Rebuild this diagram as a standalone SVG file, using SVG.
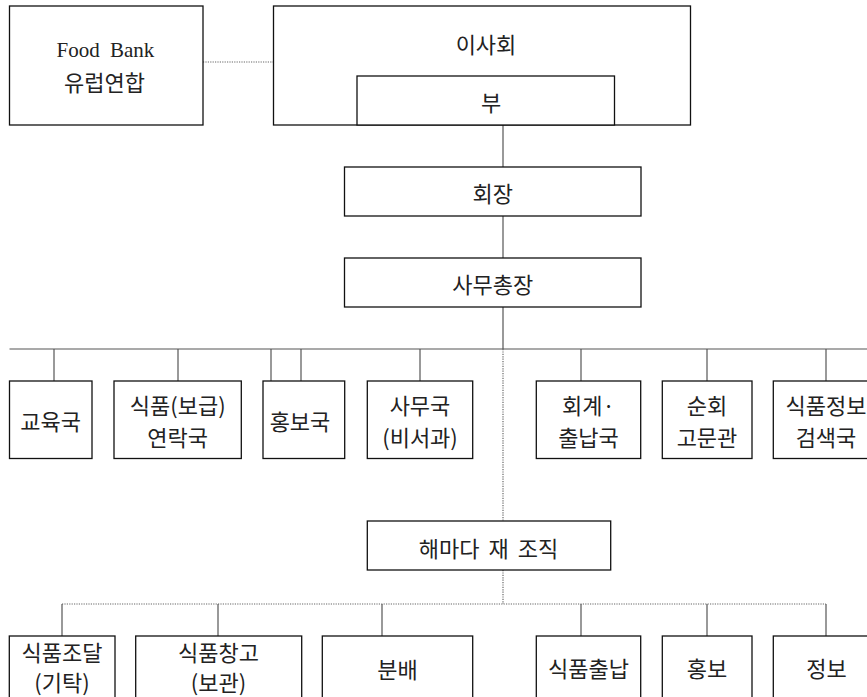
<svg xmlns="http://www.w3.org/2000/svg" width="867" height="697" viewBox="0 0 867 697">
<style>
.box{fill:#fff;stroke:#111;stroke-width:1.3}
.ln{stroke:#555;stroke-width:1.2;fill:none}
.dt{stroke:#666;stroke-width:1.2;stroke-dasharray:1.2 1.2;fill:none}
text{font-family:"Noto Sans CJK KR","Liberation Serif",serif;font-size:22px;fill:#222;text-anchor:middle;dominant-baseline:central}
.lat{font-family:"Liberation Serif",serif;font-size:21px;dominant-baseline:alphabetic}
</style>
<rect width="867" height="697" fill="#fff"/>
<g id="connectors">
<line class="dt" x1="203" y1="62" x2="274" y2="62"/>
<line class="ln" x1="503" y1="125" x2="503" y2="167"/>
<line class="ln" x1="503" y1="216" x2="503" y2="258"/>
<line class="ln" x1="503" y1="307" x2="503" y2="349"/>
<line class="ln" x1="9.5" y1="349" x2="867" y2="349"/>
<line class="ln" x1="54" y1="349" x2="54" y2="381"/>
<line class="ln" x1="178" y1="349" x2="178" y2="381"/>
<line class="ln" x1="271" y1="349" x2="271" y2="381"/>
<line class="ln" x1="301" y1="349" x2="301" y2="381"/>
<line class="ln" x1="420" y1="349" x2="420" y2="381"/>
<line class="ln" x1="581" y1="349" x2="581" y2="381"/>
<line class="ln" x1="707" y1="349" x2="707" y2="381"/>
<line class="ln" x1="826" y1="349" x2="826" y2="381"/>
<line class="dt" x1="503" y1="349" x2="503" y2="521"/>
<line class="dt" x1="503" y1="570" x2="503" y2="604"/>
<line class="dt" x1="62" y1="604" x2="826" y2="604"/>
<line class="ln" x1="62" y1="604" x2="62" y2="636"/>
<line class="ln" x1="218" y1="604" x2="218" y2="636"/>
<line class="ln" x1="382" y1="604" x2="382" y2="636"/>
<line class="ln" x1="581" y1="604" x2="581" y2="636"/>
<line class="ln" x1="707" y1="604" x2="707" y2="636"/>
<line class="ln" x1="826" y1="604" x2="826" y2="636"/>
</g>
<g id="foodbank"><rect class="box" x="9.5" y="6" width="193.5" height="119"/>
<text class="lat" x="105.5" y="57" word-spacing="5">Food Bank</text>
<text x="104.5" y="81">유럽연합</text></g>
<g id="board"><rect class="box" x="273.5" y="6" width="417" height="119"/>
<text x="486" y="43">이사회</text></g>
<g id="vice"><rect class="box" x="357" y="76" width="257.5" height="49"/>
<text x="491" y="101">부</text></g>
<g id="president"><rect class="box" x="344.5" y="167" width="296.5" height="49"/>
<text x="492.7" y="192">회장</text></g>
<g id="secgen"><rect class="box" x="344.5" y="258" width="296.5" height="49"/>
<text x="492.7" y="283">사무총장</text></g>
<g id="edu"><rect class="box" x="9.5" y="381" width="82.5" height="77.5"/>
<text x="50.7" y="419.5">교육국</text></g>
<g id="liaison"><rect class="box" x="114" y="381" width="127.3" height="77.5"/>
<text x="177.7" y="404">식품(보급)</text><text x="177.7" y="436">연락국</text></g>
<g id="pr"><rect class="box" x="263" y="381" width="81.7" height="77.5"/>
<text x="300" y="419.5">홍보국</text></g>
<g id="office"><rect class="box" x="367.3" y="381" width="105.4" height="77.5"/>
<text x="420" y="404">사무국</text><text x="420" y="436">(비서과)</text></g>
<g id="account"><rect class="box" x="536.3" y="381" width="104.4" height="77.5"/>
<text x="588.5" y="404">회계·</text><text x="588.5" y="436">출납국</text></g>
<g id="advisor"><rect class="box" x="662.3" y="381" width="89.7" height="77.5"/>
<text x="707" y="404">순회</text><text x="707" y="436">고문관</text></g>
<g id="info"><rect class="box" x="773.3" y="381" width="106" height="77.5"/>
<text x="826" y="404">식품정보</text><text x="826" y="436">검색국</text></g>
<g id="reorg"><rect class="box" x="367.3" y="521" width="243.4" height="49"/>
<text x="488.5" y="546.5" word-spacing="4">해마다 재 조직</text></g>
<g id="procure"><rect class="box" x="9.3" y="636" width="105.7" height="80"/>
<text x="62" y="651">식품조달</text><text x="62" y="681">(기탁)</text></g>
<g id="warehouse"><rect class="box" x="135.7" y="636" width="166" height="80"/>
<text x="218.5" y="651">식품창고</text><text x="218.5" y="681">(보관)</text></g>
<g id="distrib"><rect class="box" x="322.3" y="636" width="150.4" height="80"/>
<text x="397.5" y="668">분배</text></g>
<g id="foodio"><rect class="box" x="536.3" y="636" width="104.4" height="80"/>
<text x="588.5" y="667">식품출납</text></g>
<g id="promo"><rect class="box" x="662.3" y="636" width="89.7" height="80"/>
<text x="707" y="667">홍보</text></g>
<g id="infob"><rect class="box" x="773.3" y="636" width="106" height="80"/>
<text x="826.5" y="667">정보</text></g>
</svg>
